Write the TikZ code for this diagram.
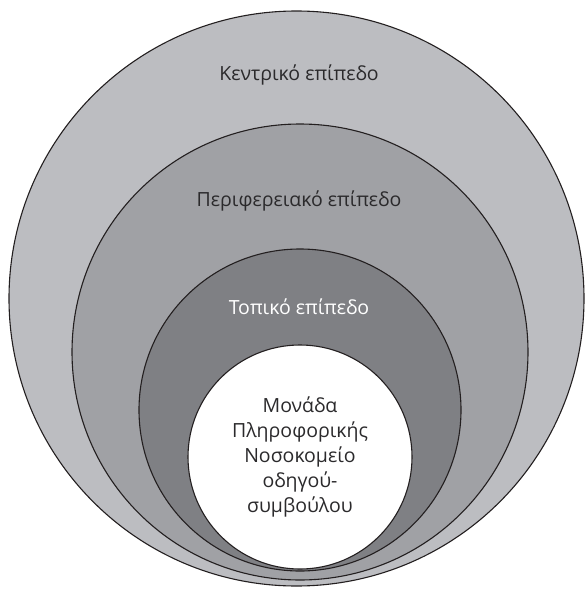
\documentclass[tikz,border=0pt]{standalone}
\usepackage{fontspec}
\setmainfont{Open Sans}
\definecolor{ringA}{HTML}{BCBDC1}
\definecolor{ringB}{HTML}{A0A1A5}
\definecolor{ringC}{HTML}{7F8084}
\definecolor{edge}{HTML}{231F20}
\definecolor{txt}{HTML}{2B2A2C}
\begin{document}
\begin{tikzpicture}[x=1pt,y=-1pt,
  ring/.style={draw=edge,line width=1.1pt},
  lbl/.style={font=\fontsize{19.5}{25}\selectfont,text=txt,inner sep=0pt,align=center}]
\useasboundingbox (0,0) rectangle (585,589);
\path[ring,fill=ringA] (296.5,298.5) circle (287.5);
\path[ring,fill=ringB] (300,352) circle (228);
\path[ring,fill=ringC] (300,410) circle (161);
\path[ring,fill=white] (300,457) circle (112);
\node[lbl] (central) at (299,75) {Κεντρικό επίπεδο};
\node[lbl] (regional) at (299,201) {Περιφερειακό επίπεδο};
\node[lbl,text=white] (local) at (299,307) {Τοπικό επίπεδο};
\node[lbl] (unit) at (300,457) {Μονάδα\\Πληροφορικής\\Νοσοκομείο\\οδηγού-\\συμβούλου};
\end{tikzpicture}
\end{document}
